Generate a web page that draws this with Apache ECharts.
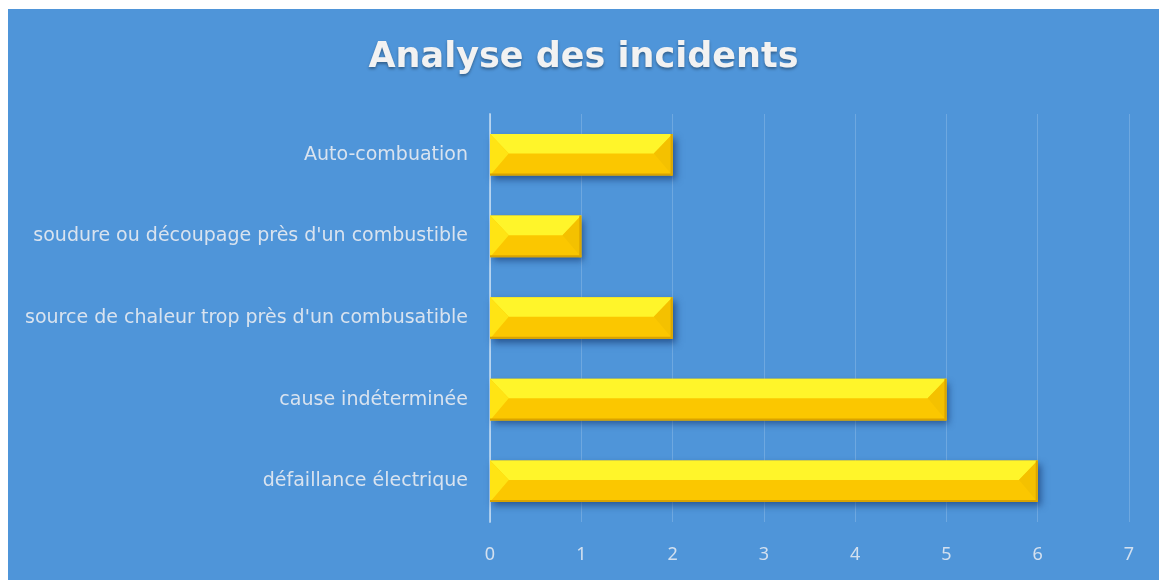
<!DOCTYPE html>
<html>
<head>
<meta charset="utf-8">
<script src="https://cdn.jsdelivr.net/npm/echarts@6/dist/echarts.min.js"></script>
<style>
  html, body { margin: 0; padding: 0; background: #fff; }
  #main { position: absolute; left: 8px; top: 9px; width: 1151px; height: 571px; background: #4f95d9; }
</style>
</head>
<body>
<div id="main"></div>
<script>
// catégories de haut en bas
var categories = [
  'Auto-combuation',
  "soudure ou découpage près d'un combustible",
  "source de chaleur trop près d'un combusatible",
  'cause indéterminée',
  'défaillance électrique'
];
var counts = [2, 1, 2, 5, 6];
var xMax = 7;

// barre biseautée jaune
function renderBevel(params, api) {
  var i = api.value(1);
  var start = api.coord([0, i]);
  var end = api.coord([api.value(0), i]);
  var h = api.size([0, 1])[1] * 0.51;
  var x0 = start[0], x1 = end[0];
  var y0 = end[1] - h / 2, y1 = y0 + h;
  var d = Math.min(h * 0.45, (x1 - x0) / 2);
  var mid = y0 + h * 0.47;
  return {
    type: 'group',
    children: [
      { type: 'rect', shape: { x: x0, y: y0, width: x1 - x0, height: h },
        style: { fill: '#fbc700', shadowBlur: 7, shadowOffsetX: 3, shadowOffsetY: 4, shadowColor: 'rgba(15,45,100,0.6)' } },
      { type: 'polygon', shape: { points: [[x0, y0], [x1, y0], [x1 - d, mid], [x0 + d, mid]] },
        style: { fill: '#fff52a' } },
      { type: 'polygon', shape: { points: [[x0, y0], [x0 + d, mid], [x0, y1]] },
        style: { fill: '#ffe414' } },
      { type: 'polygon', shape: { points: [[x1, y0], [x1 - d, mid], [x1, y1]] },
        style: { fill: '#f4c100' } },
      { type: 'rect', shape: { x: x0, y: y1 - 2, width: x1 - x0, height: 2 },
        style: { fill: '#d9a300' } },
      { type: 'rect', shape: { x: x1 - 2, y: y0, width: 2, height: h },
        style: { fill: '#dba600' } }
    ]
  };
}

var chart = echarts.init(document.getElementById('main'));
var option = {
  title: {
    text: 'Analyse des incidents',
    left: 'center',
    top: 26,
    textStyle: {
      fontFamily: 'DejaVu Sans',
      fontWeight: 'bold',
      fontSize: 35,
      color: '#f2f2f2',
      textShadowColor: 'rgba(0,0,0,0.35)',
      textShadowBlur: 3,
      textShadowOffsetY: 2
    }
  },
  grid: { left: 482, right: 30, top: 105, bottom: 58 },
  xAxis: {
    type: 'value',
    min: 0,
    max: xMax,
    interval: 1,
    axisLine: { show: false },
    axisTick: { show: false },
    splitLine: { lineStyle: { color: 'rgba(255,255,255,0.18)', width: 1 } },
    axisLabel: { margin: 24, color: '#d3e0ef', fontSize: 18, fontFamily: 'Noto Sans' }
  },
  yAxis: {
    type: 'category',
    data: categories,
    inverse: true,
    axisLine: { show: true, lineStyle: { color: 'rgba(255,255,255,0.5)', width: 2 } },
    axisTick: { show: false },
    axisLabel: { margin: 22, color: '#d9e3ef', fontSize: 19, fontFamily: 'DejaVu Sans' }
  },
  series: [{
    type: 'custom',
    renderItem: renderBevel,
    encode: { x: 0, y: 1 },
    data: counts.map(function (v, i) { return [v, i]; })
  }]
};
chart.setOption(option);
</script>
</body>
</html>
